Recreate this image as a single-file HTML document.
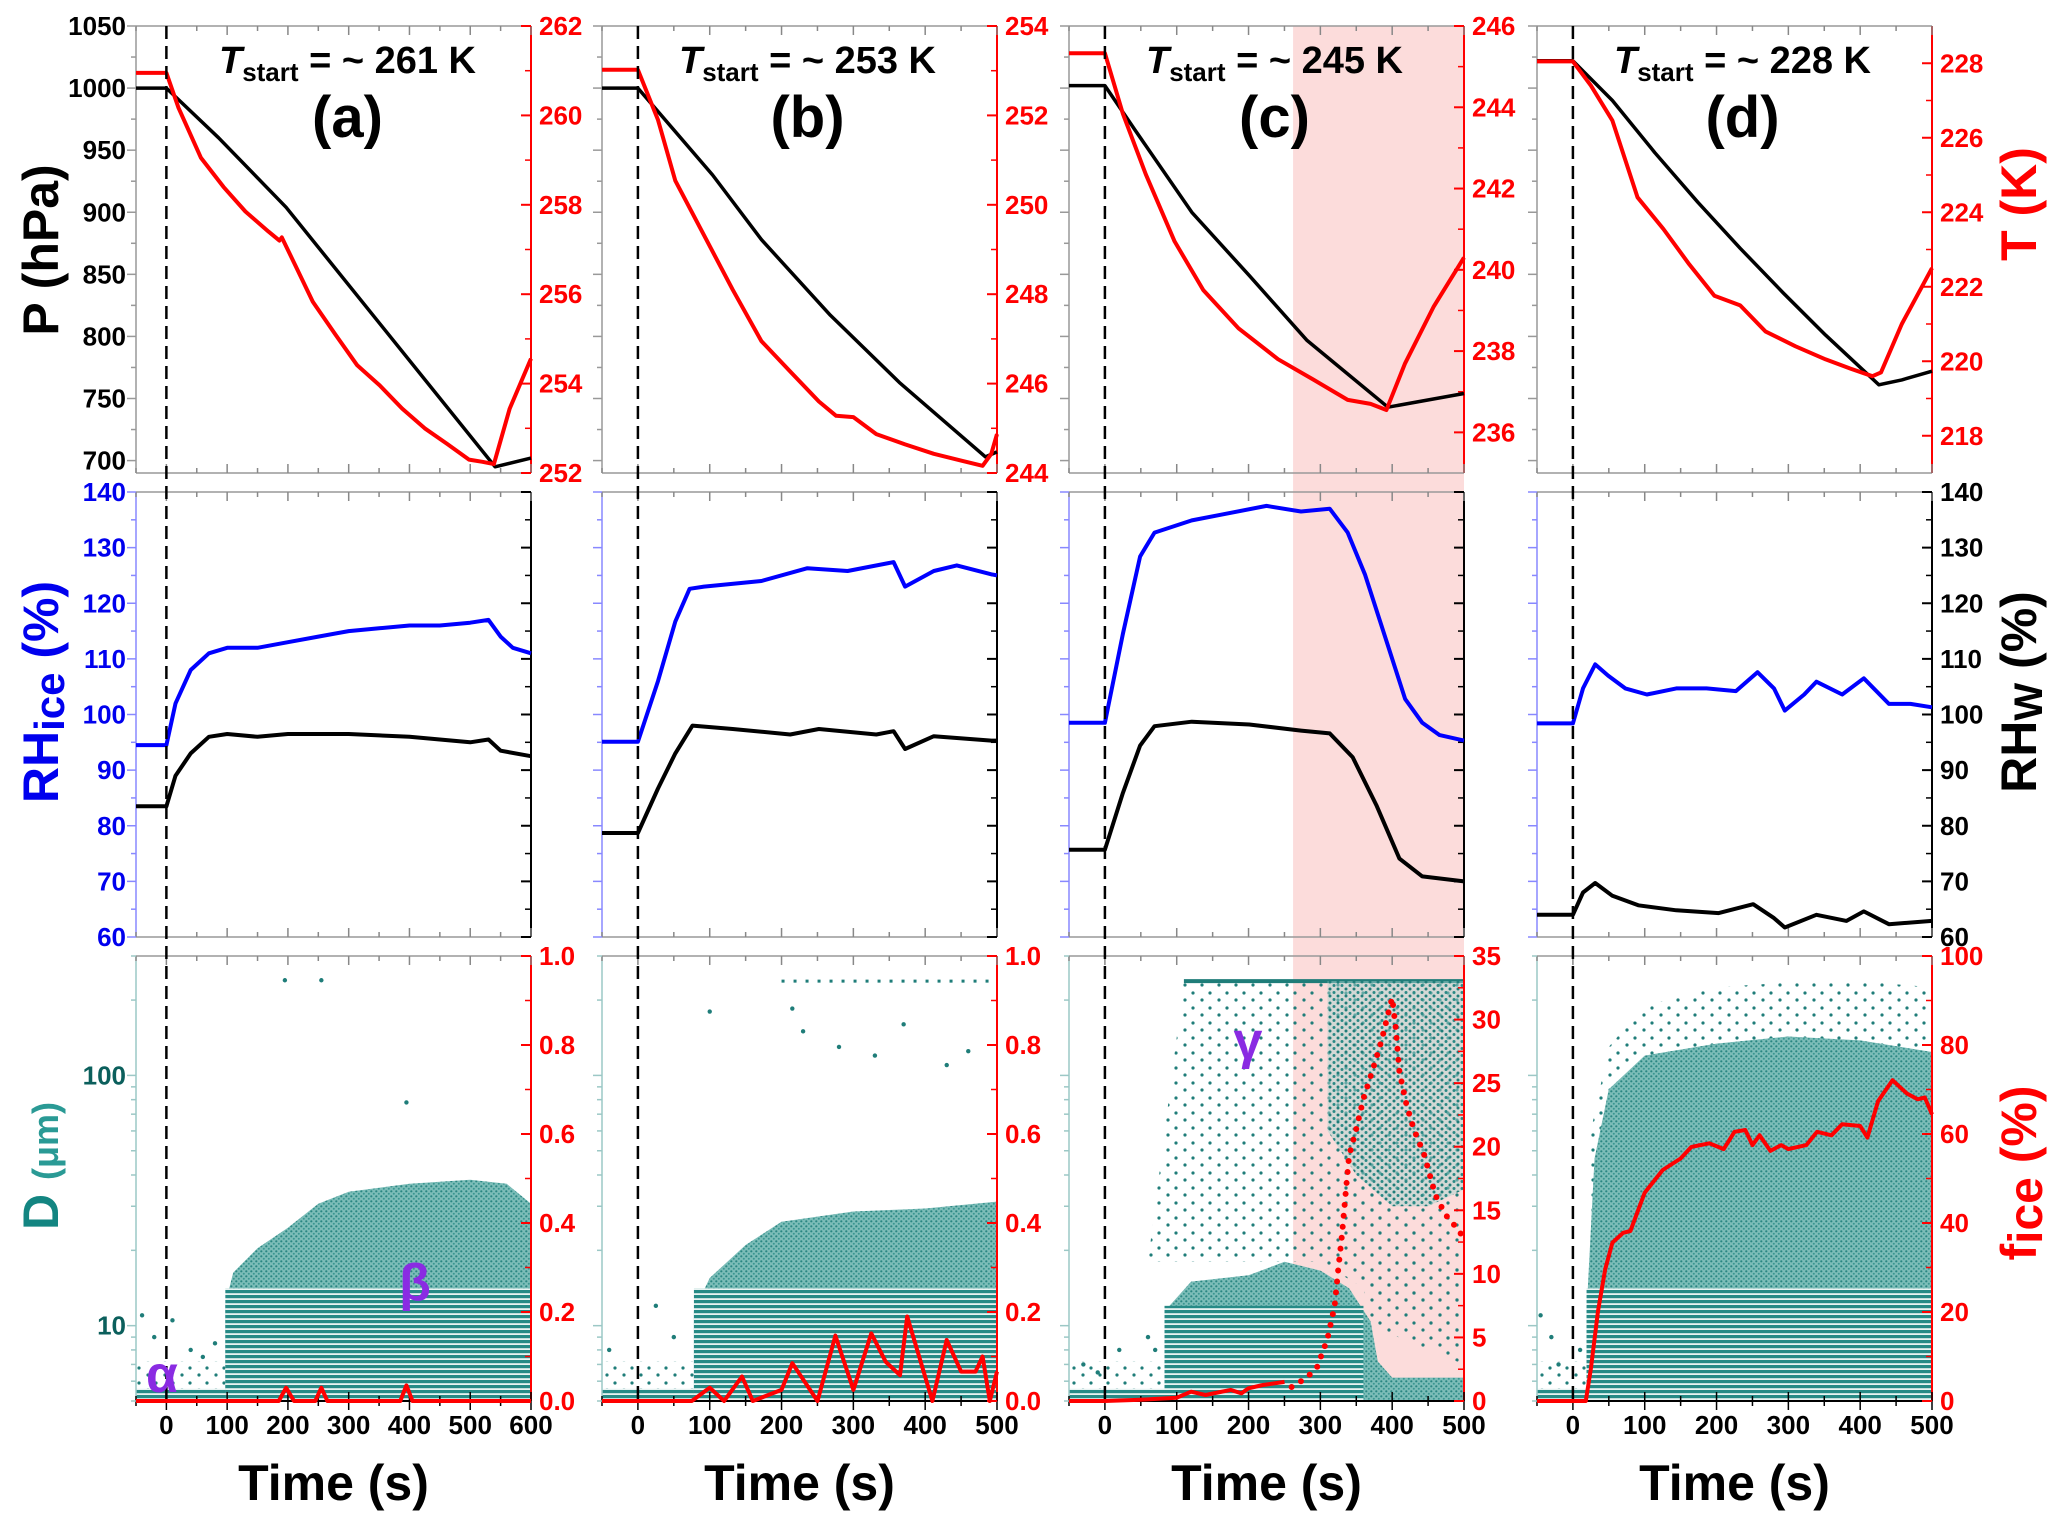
<!DOCTYPE html>
<html><head><meta charset="utf-8">
<style>
html,body{margin:0;padding:0;background:#fff;}
svg{display:block;}
text{font-family:"Liberation Sans",sans-serif;font-weight:bold;}
.nar{font-family:"Liberation Sans Narrow","Liberation Sans",sans-serif;font-stretch:condensed;}
</style></head>
<body>
<svg id="chart" width="2067" height="1531" viewBox="0 0 2067 1531" xmlns="http://www.w3.org/2000/svg">
<defs>
<pattern id="stripes" width="6" height="5" patternUnits="userSpaceOnUse"><rect x="0" y="0" width="6" height="5" fill="#e8f3f2"/><rect x="0" y="0" width="6" height="3.2" fill="#268a86"/></pattern>
<pattern id="speckle" width="5" height="5" patternUnits="userSpaceOnUse"><rect width="5" height="5" fill="#7cbdb8"/><circle cx="1.3" cy="1.3" r="1.1" fill="#2a8682"/><circle cx="3.8" cy="3.8" r="1.0" fill="#3a9691"/></pattern>
<pattern id="sparse" width="17" height="15" patternUnits="userSpaceOnUse"><circle cx="3" cy="3" r="1.6" fill="#1f7d79"/><circle cx="12" cy="10" r="1.6" fill="#1f7d79"/></pattern>
<pattern id="medium" width="8" height="7" patternUnits="userSpaceOnUse"><rect width="8" height="7" fill="#a9d3d0" opacity="0.5"/><circle cx="2" cy="2" r="1.5" fill="#1f7d79"/><circle cx="6" cy="5.5" r="1.5" fill="#2a8985"/></pattern>
</defs>
<g id="layer"></g>
</svg>
<script>
// ---------- data ----------
const panels = ["a","b","c","d"];
const tStartLabels = ["261","253","245","228"];
const timeMax = [600,500,500,500];
const tRanges = [[252,262],[244,254],[235,246],[217,229]];
const tTicks = [[252,254,256,258,260,262],[244,246,248,250,252,254],[236,238,240,242,244,246],[218,220,222,224,226,228]];
const pTicks = [700,750,800,850,900,950,1000,1050];
const rhTicks = [60,70,80,90,100,110,120,130,140];
const fRanges = [1,1,35,100];
const fTicks = [[0,0.2,0.4,0.6,0.8,1.0],[0,0.2,0.4,0.6,0.8,1.0],[0,5,10,15,20,25,30,35],[0,20,40,60,80,100]];
const fTickLabels = [["0.0","0.2","0.4","0.6","0.8","1.0"],["0.0","0.2","0.4","0.6","0.8","1.0"],["0","5","10","15","20","25","30","35"],["0","20","40","60","80","100"]];
const timeTicks = [[0,100,200,300,400,500,600],[0,100,200,300,400,500],[0,100,200,300,400,500],[0,100,200,300,400,500]];

// Pressure (hPa)
const pTime = [[-50,0,86,197,541,600],[-50,0,104,172,268,364,484,500],[-50,0,41,121,201,281,394,442,500],[-50,0,55,114,174,233,293,352,426,458,500]];
const pVal = [[1000,1000,960,904,695,702],[1000,1000,930,878,817,763,703,707],[1002,1002,967,900,849,797,743,748,754],[1022,1022,990,948,908,871,835,801,761,765,772]];
// Temperature (K)
const tTime = [[-50,0,20,57,94,130,168,186,190,212,241,278,314,351,388,425,462,498,520,539,565,600],
 [-50,0,28,52,92,132,172,212,252,276,300,332,372,412,452,480,492,500],
 [-50,0,25,57,97,137,186,241,290,338,370,392,418,458,500],
 [-50,0,25,55,90,126,162,197,233,268,310,352,387,417,429,458,500]];
const tVal = [[260.95,260.95,260.17,259.05,258.4,257.85,257.4,257.2,257.27,256.65,255.83,255.1,254.41,253.96,253.44,253.0,252.65,252.3,252.25,252.2,253.44,254.56],
 [253.02,253.02,251.9,250.54,249.32,248.1,246.95,246.27,245.6,245.28,245.25,244.87,244.64,244.43,244.27,244.16,244.43,244.87],
 [245.33,245.33,243.84,242.35,240.7,239.5,238.56,237.8,237.3,236.8,236.7,236.55,237.7,239.1,240.3],
 [228.05,228.05,227.4,226.46,224.4,223.55,222.6,221.76,221.5,220.8,220.4,220.05,219.8,219.6,219.7,221.0,222.5]];
// RH ice (%)
const rhiTime = [[-50,0,15,40,70,100,150,200,250,300,350,400,450,500,530,550,570,600],
 [-50,0,28,52,72,92,172,236,292,356,372,412,444,492,500],
 [-50,0,25,49,69,121,161,225,273,313,338,362,394,418,442,466,500],
 [-50,0,14,31,49,73,103,144,186,227,257,280,295,322,339,375,405,440,470,500]];
const rhiVal = [[94.5,94.5,102,108,111,112,112,113,114,115,115.5,116,116,116.5,117,114,112,111],
 [95.1,95.1,106,116.7,122.6,123,124,126.3,125.8,127.4,123,125.8,126.8,125.2,125],
 [98.5,98.5,114.5,128.4,132.7,134.9,135.9,137.5,136.5,137,132.7,125.2,112.4,102.8,98.5,96.3,95.3],
 [98.4,98.4,104.7,109,107,104.7,103.6,104.7,104.7,104.2,107.6,104.7,100.7,103.6,105.9,103.6,106.5,101.9,101.9,101.3]];
// RH water (%)
const rhwTime = [[-50,0,15,40,70,100,150,200,300,400,450,500,530,550,600],
 [-50,0,28,52,76,132,212,252,332,356,372,412,492,500],
 [-50,0,25,49,69,121,201,273,313,345,378,410,442,500],
 [-50,0,14,31,55,91,144,203,251,280,295,339,381,405,440,500]];
const rhwVal = [[83.5,83.5,89,93,96,96.5,96,96.5,96.5,96,95.5,95,95.5,93.5,92.5],
 [78.7,78.7,86.7,93,98,97.4,96.4,97.4,96.4,97,93.8,96.1,95.3,95.3],
 [75.7,75.7,85.9,94.4,97.9,98.7,98.2,97.1,96.6,92.3,83.7,74.1,70.9,70],
 [64,64,68,69.7,67.4,65.7,64.8,64.3,65.9,63.4,61.7,64,62.9,64.6,62.3,62.9]];
// Dense particle-size envelope (um)
const envTime = [[97,110,150,200,250,300,400,500,560,600],[78,100,150,200,300,400,500],[83,120,200,250,300,340,370,380,400,500],[19,30,50,100,200,300,400,500]];
const envD = [[12.2,16.3,20.4,24.6,30.7,34.3,36.9,38.3,36.9,30.7],[11.4,15.5,21,26,28.6,29.4,31.3],[11.4,15,15.9,18,16.6,14.1,10.4,7.2,6.2,6.2],[11.4,46.5,88,120,134,143,138,124]];
const stripeTop = [14.1,14.1,12,14.1];
const stripeEnd = [600,500,360,500];
// outer sparse envelope for panel d
const dOuterTime = [25,50,100,200,300,400,500];
const dOuterD = [60,130,190,225,235,238,225];
// panel c upper ice cloud
const cCloudTime = [310,350,400,450,500];
const cCloudLow = [60,40,30,30,35];
const cTopD = 238;
// isolated scatter points (time, D)
const outT = [[195,255,395,-40,10,-20,40,60,80],[100,215,230,280,330,370,430,460,25,-40,50],[-30,20,60,70,-10],[-30,-20,10,-45]];
const outD = [[240,240,78,11,10.5,9,8,7.5,8.5],[180,185,150,130,120,160,110,125,12,8,9],[7,8,9,8,6.5],[9,7,8,11]];
// ice fraction
const fTime = [[-50,185,197,210,245,255,265,385,395,405,600],
 [-50,75,100,120,145,160,200,215,250,275,300,325,345,365,375,410,430,450,470,480,490,500],
 [-50,0,50,100,120,140,175,190,200,220,250],
 [-50,18,25,35,45,55,70,80,100,125,150,165,190,210,225,240,250,260,275,290,300,325,340,360,375,400,410,425,445,465,480,490,500]];
const fVal = [[0,0,0.03,0,0,0.03,0,0,0.035,0,0],
 [0,0,0.03,0,0.055,0,0.025,0.085,0,0.147,0.025,0.152,0.088,0.058,0.19,0,0.137,0.066,0.066,0.1,0,0.066],
 [0,0,0.1,0.26,0.73,0.47,0.87,0.6,1.0,1.26,1.5],
 [0,0,7.3,20.2,29.6,35.6,37.8,38.2,46.8,51.9,54.5,57.1,57.9,56.6,60.5,60.9,57.5,59.7,56.2,57.5,56.6,57.5,60.5,59.7,62.2,61.8,59.2,67.4,72.1,69.1,67.8,68.2,64.4]];
const cDotTime = [260,280,295,310,320,325,330,335,340,350,360,372,385,395,400,405,410,420,430,445,460,475,490,500];
const cDotVal = [1.1,1.8,2.6,4.9,7.5,10.4,13,16.2,19.3,21.4,23.8,25.9,28.3,30.6,31.7,29.3,25.9,23.3,21.4,19.3,16.2,14.6,13.6,12.8];
const shadeStart = 262;

// ---------- layout ----------
const PL=[136,602,1069,1537], PW=395;
const ROWS=[[26,473],[492,937],[956,1401]];
const PR=[690,1050], RHR=[60,140], DR=[5,300];
const NS="http://www.w3.org/2000/svg";
const layer=document.getElementById('layer');
function el(tag,attrs,parent,txt){const e=document.createElementNS(NS,tag);for(const k in attrs)e.setAttribute(k,attrs[k]);if(txt!==undefined)e.textContent=txt;(parent||layer).appendChild(e);return e;}
function X(p,t){return PL[p]+(t+50)/(timeMax[p]+50)*PW;}
function Ylin(r,lo,hi,v){const [a,b]=ROWS[r];return b-(v-lo)/(hi-lo)*(b-a);}
function Ylog(v){const [a,b]=ROWS[2];return b-(Math.log10(v)-Math.log10(DR[0]))/(Math.log10(DR[1])-Math.log10(DR[0]))*(b-a);}
function path(ts,vs,fx,fy){return ts.map((t,i)=>(i?'L':'M')+fx(t).toFixed(1)+','+fy(vs[i]).toFixed(1)).join(' ');}

const sh=el('rect',{x:X(2,shadeStart),y:ROWS[0][0],width:X(2,500)-X(2,shadeStart),height:ROWS[2][1]-ROWS[0][0],fill:'#fcdcdb'});



for(let p=0;p<4;p++){
  const g=el('g',{});
  
  
  const fx=t=>X(p,t);
  const L=PL[p], R=PL[p]+PW;
  const cp=el('clipPath',{id:'clip'+p},g);
  el('rect',{x:L,y:ROWS[2][0],width:PW,height:ROWS[2][1]-ROWS[2][0]},cp);
  const bg=el('g',{'clip-path':'url(#clip'+p+')'},g);
  const bot=ROWS[2][1];
  const bs=el('rect',{x:L,y:Ylog(5.6),width:PW,height:bot-Ylog(5.6),fill:'url(#stripes)'},bg);
  
  
  const pre=el('rect',{x:L,y:Ylog(7.2),width:fx(envTime[p][0])-L,height:Ylog(5.6)-Ylog(7.2),fill:'url(#sparse)'},bg);
  
  
  if(p===3){
    const o=el('path',{d:path(dOuterTime,dOuterD,fx,Ylog)+' L'+fx(500)+','+bot+' L'+fx(25)+','+bot+' Z',fill:'url(#sparse)'},bg);
    
    
  }
  if(p===2){
    const sp=el('path',{d:'M'+fx(60)+','+Ylog(18)+' L'+fx(110)+','+Ylog(cTopD)+' L'+fx(500)+','+Ylog(cTopD)+' L'+fx(500)+','+Ylog(8)+' L'+fx(300)+','+Ylog(18)+' Z',fill:'url(#sparse)'},bg);
    
    
    const top=el('line',{x1:fx(110),x2:fx(500),y1:Ylog(cTopD),y2:Ylog(cTopD),stroke:'#1f7d79','stroke-width':4},bg);
    
    
    const up=el('path',{d:'M'+fx(cCloudTime[0])+','+Ylog(cTopD)+' L'+fx(500)+','+Ylog(cTopD)+' '+cCloudTime.slice().reverse().map((t,i)=>'L'+fx(t)+','+Ylog(cCloudLow[cCloudLow.length-1-i])).join(' ')+' Z',fill:'url(#medium)'},bg);
    
    
    const mid=el('path',{d:'M'+fx(330)+','+Ylog(40)+' L'+fx(500)+','+Ylog(20)+' L'+fx(500)+','+Ylog(7)+' L'+fx(370)+','+Ylog(10)+' Z',fill:'url(#sparse)'},bg);
    
    
  }
  if(p===1){
    const tl=el('line',{x1:fx(200),x2:fx(490),y1:Ylog(cTopD),y2:Ylog(cTopD),stroke:'#1f7d79','stroke-width':3,'stroke-dasharray':'3 9'},bg);
    
    
  }
  const et=envTime[p], ed=envD[p];
  const env=el('path',{d:'M'+fx(et[0])+','+bot+' '+et.map((t,i)=>'L'+fx(t).toFixed(1)+','+Ylog(ed[i]).toFixed(1)).join(' ')+' L'+fx(et[et.length-1])+','+bot+' Z',fill:'url(#speckle)'},bg);
  
  
  const st=el('rect',{x:fx(et[0]),y:Ylog(stripeTop[p]),width:fx(stripeEnd[p])-fx(et[0]),height:bot-Ylog(stripeTop[p]),fill:'url(#stripes)'},bg);
  
  
  outT[p].forEach((t,i)=>{const c=el('circle',{cx:fx(t),cy:Ylog(outD[p][i]),r:2.2,fill:'#1f7d79'},bg);
    
    });

  for(let r=0;r<3;r++){
    const [a,b]=ROWS[r];
    el('line',{x1:L,x2:R,y1:a,y2:a,stroke:'#999','stroke-width':1.5},g);
    el('line',{x1:L,x2:R,y1:b,y2:b,stroke:r===2?'#000':'#999','stroke-width':r===2?2:1.5},g);
    const lc=r===0?'#999':(r===1?'#8888ff':'#9cc8c6');
    const rc=r===1?'#000':'red';
    el('line',{x1:L,x2:L,y1:a,y2:b,stroke:lc,'stroke-width':1.5},g);
    el('line',{x1:R,x2:R,y1:a,y2:b,stroke:rc,'stroke-width':2},g);
    for(let t=-50;t<=timeMax[p];t+=50){
      const len=t%100===0?9:5;
      el('line',{x1:fx(t),x2:fx(t),y1:a,y2:a+len,stroke:'#888','stroke-width':1.5},g);
      el('line',{x1:fx(t),x2:fx(t),y1:b,y2:b-len,stroke:r===2?'#000':'#888','stroke-width':1.5},g);
      if(r===2) el('line',{x1:fx(t),x2:fx(t),y1:b,y2:b+len,stroke:'#000','stroke-width':1.5},g);
    }
  }
  pTicks.forEach((v,i)=>{const y=Ylin(0,PR[0],PR[1],v);el('line',{x1:L-9,x2:L,y1:y,y2:y,stroke:'#999','stroke-width':1.5},g);
    if(i<pTicks.length-1){const y2=Ylin(0,PR[0],PR[1],v+25);el('line',{x1:L-5,x2:L,y1:y2,y2:y2,stroke:'#999','stroke-width':1.5},g);}
    if(p===0){const tx=el('text',{x:L-10,y:y+9,'text-anchor':'end','font-size':26,fill:'#000',class:'nar'},g,String(v));
      
      }});
  const [tlo,thi]=tRanges[p];
  tTicks[p].forEach(v=>{const y=Ylin(0,tlo,thi,v);el('line',{x1:R-10,x2:R,y1:y,y2:y,stroke:'red','stroke-width':2},g);
    const ym=Ylin(0,tlo,thi,v+1); if(v+1<thi) el('line',{x1:R-6,x2:R,y1:ym,y2:ym,stroke:'red','stroke-width':1.5},g);
    const tx=el('text',{x:R+8,y:y+9,'font-size':26,fill:'red',class:p<3?'nar':''},g,String(v));
    
    });
  rhTicks.forEach((v,i)=>{const y=Ylin(1,RHR[0],RHR[1],v);
    el('line',{x1:L-9,x2:L,y1:y,y2:y,stroke:'#8888ff','stroke-width':1.5},g);
    el('line',{x1:R-10,x2:R,y1:y,y2:y,stroke:'#000','stroke-width':2},g);
    if(i<rhTicks.length-1){const y2=Ylin(1,RHR[0],RHR[1],v+5);el('line',{x1:L-5,x2:L,y1:y2,y2:y2,stroke:'#8888ff','stroke-width':1.5},g);el('line',{x1:R-6,x2:R,y1:y2,y2:y2,stroke:'#000','stroke-width':1.5},g);}
    if(p===0){const tx=el('text',{x:L-10,y:y+9,'text-anchor':'end','font-size':26,fill:'#0000ee',class:'nar'},g,String(v));
      
      }
    if(p===3){const tx=el('text',{x:R+8,y:y+9,'font-size':26,fill:'#000'},g,String(v));
      
      }});
  [5,6,7,8,9,10,20,30,40,50,60,70,80,90,100,200,300].forEach(v=>{const y=Ylog(v);const maj=(v===10||v===100);
    el('line',{x1:L-(maj?9:5),x2:L,y1:y,y2:y,stroke:'#9cc8c6','stroke-width':1.5},g);});
  if(p===0){[10,100].forEach(v=>{const tx=el('text',{x:L-10,y:Ylog(v)+9,'text-anchor':'end','font-size':26,fill:'#0b5f5c',class:'nar'},g,String(v));
    
    });}
  fTicks[p].forEach((v,i)=>{const y=Ylin(2,0,fRanges[p],v);el('line',{x1:R-10,x2:R,y1:y,y2:y,stroke:'red','stroke-width':2},g);
    if(i<fTicks[p].length-1){const ym=Ylin(2,0,fRanges[p],(v+fTicks[p][i+1])/2);el('line',{x1:R-6,x2:R,y1:ym,y2:ym,stroke:'red','stroke-width':1.5},g);}
    const tx=el('text',{x:R+8,y:y+9,'font-size':26,fill:'red',class:p<3?'nar':''},g,fTickLabels[p][i]);
    
    });
  timeTicks[p].forEach(v=>{const tx=el('text',{x:fx(v),y:ROWS[2][1]+33,'text-anchor':'middle','font-size':26,fill:'#000',class:p<3?'nar':''},g,String(v));
    
    });
  const xt=el('text',{x:L+PW/2,y:1500,'text-anchor':'middle','font-size':50,fill:'#000'},g,'Time (s)');
  
  

  const pp=el('path',{d:path(pTime[p],pVal[p],fx,v=>Ylin(0,PR[0],PR[1],v)),fill:'none',stroke:'#000','stroke-width':3.5,'stroke-linejoin':'round'},g);
  
  
  const tp=el('path',{d:path(tTime[p],tVal[p],fx,v=>Ylin(0,tlo,thi,v)),fill:'none',stroke:'red','stroke-width':4,'stroke-linejoin':'round'},g);
  
  
  const ri=el('path',{d:path(rhiTime[p],rhiVal[p],fx,v=>Ylin(1,RHR[0],RHR[1],v)),fill:'none',stroke:'#0000ff','stroke-width':4,'stroke-linejoin':'round'},g);
  
  
  const rw=el('path',{d:path(rhwTime[p],rhwVal[p],fx,v=>Ylin(1,RHR[0],RHR[1],v)),fill:'none',stroke:'#000','stroke-width':4,'stroke-linejoin':'round'},g);
  
  
  const fp=el('path',{d:path(fTime[p],fVal[p],fx,v=>Ylin(2,0,fRanges[p],v)),fill:'none',stroke:'red','stroke-width':4,'stroke-linejoin':'round'},g);
  
  
  if(p===2){
    const fd=el('path',{d:path(cDotTime,cDotVal,fx,v=>Ylin(2,0,fRanges[p],v)),fill:'none',stroke:'red','stroke-width':6,'stroke-linecap':'round','stroke-dasharray':'0 11'},g);
    
    
  }
  const cx=L+PW/2+(p===0?14:8);
  const tt=el('text',{x:cx,y:73,'text-anchor':'middle','font-size':38,fill:'#000'},g);
  
  
  el('tspan',{'font-style':'italic'},tt,'T');
  el('tspan',{'font-size':26,dy:8},tt,'start');
  el('tspan',{dy:-8},tt,' = ~ '+tStartLabels[p]+' K');
  const lb=el('text',{x:cx,y:137,'text-anchor':'middle','font-size':58,fill:'#000'},g,'('+panels[p]+')');
  
  
  const dl=el('line',{x1:fx(0),x2:fx(0),y1:ROWS[0][0],y2:ROWS[2][1],stroke:'#000','stroke-width':2.5,'stroke-dasharray':'13 7'},g);
  
  
}
[['α',162,1392,'alpha-label'],['β',415,1300,'beta-label'],['γ',1248,1058,'gamma-label']].forEach(a=>{
  const t=el('text',{x:a[1],y:a[2],'text-anchor':'middle','font-size':52,fill:'#8a2be2','font-family':'Liberation Serif, serif','font-style':'normal'},layer,a[0]);
  
  
});
function vtitle(x,y,parts,color,name){
  const t=el('text',{x:x,y:y,'text-anchor':'middle','font-size':50,fill:color,transform:'rotate(-90 '+x+' '+y+')'});
  
  
  parts.forEach(pt=>el('tspan',pt[1]||{},t,pt[0]));
}
vtitle(58,250,[['P (hPa)']],'#000','p-axis-title');
vtitle(58,692,[['RH'],['ice',{'font-size':42,dy:6}],[' (%)',{dy:-6}]],'#0000ee','rhice-axis-title');
vtitle(58,1166,[['D '],['(μm)',{'font-size':36,fill:'#2a9a95'}]],'#138581','d-axis-title');
vtitle(2036,204,[['T (K)']],'red','t-axis-title');
vtitle(2036,692,[['RH'],['W',{'font-size':40,dy:6}],[' (%)',{dy:-6}]],'#000','rhw-axis-title');
vtitle(2036,1173,[['f'],['ice',{'font-size':48,dy:6}],[' (%)',{dy:-6}]],'red','fice-axis-title');
</script>
</body></html>
